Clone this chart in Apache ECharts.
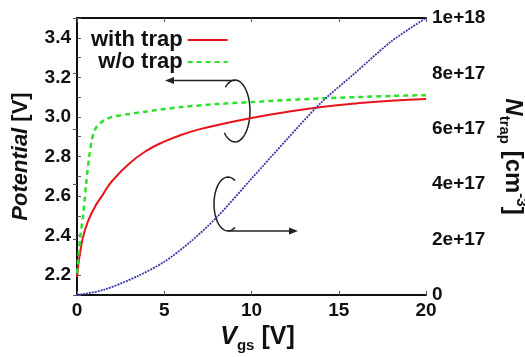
<!DOCTYPE html>
<html>
<head>
<meta charset="utf-8">
<script src="https://cdn.jsdelivr.net/npm/echarts@6/dist/echarts.min.js"></script>
<style>
html, body { margin: 0; padding: 0; background: #fff; }
#trap_chart { width: 525px; height: 357px; }
</style>
</head>
<body>
<div id="trap_chart"></div>
<script>
// values
let vgs_with_trap = [0, 0.17, 0.46, 0.93, 1.5, 2, 3, 4, 5, 6, 7, 8, 10, 12, 14, 16, 18, 20];
let pot_with_trap = [2.19, 2.31, 2.43, 2.53, 2.61, 2.675, 2.765, 2.83, 2.875, 2.91, 2.937, 2.958, 2.995, 3.025, 3.05, 3.068, 3.082, 3.09];

let vgs_wo_trap = [0, 0.17, 0.36, 0.52, 0.7, 0.84, 1.0, 1.22, 1.6, 2, 3, 4, 6, 8, 10, 12, 14, 16, 18, 20];
let pot_wo_trap = [2.21, 2.38, 2.51, 2.66, 2.8, 2.88, 2.93, 2.96, 2.985, 3.0, 3.015, 3.028, 3.05, 3.065, 3.075, 3.085, 3.094, 3.1, 3.106, 3.11];

let vgs_ntrap = [0, 1.5, 3.4, 5, 6.5, 8, 10, 12, 14, 16, 18, 20];
let ntrap = [0, 0.18e17, 0.66e17, 1.2e17, 1.92e17, 2.8e17, 4.2e17, 5.6e17, 6.95e17, 8.05e17, 9.15e17, 10e17];

let series_names = ['with trap', 'w/o trap'];

let font = "'Liberation Sans', Arial, sans-serif";

function pairs(xs, ys) {
    return xs.map(function (x, i) { return [x, ys[i]]; });
}

// points along an ellipse arc for the curly annotation arrows
function ellipse_arc(cx, cy, rx, ry, a0, a1) {
    let pts = [];
    for (let k = 0; k <= 40; k++) {
        let a = (a0 + (a1 - a0) * k / 40) * Math.PI / 180;
        pts.push([cx + rx * Math.cos(a), cy + ry * Math.sin(a)]);
    }
    return pts;
}

let trap_option = {
    animation: false,
    textStyle: { fontFamily: font },
    grid: { left: 77, right: 99, top: 18, bottom: 62, show: false, containLabel: false, outerBoundsMode: 'none' },
    legend: {
        data: series_names,
        orient: 'vertical',
        left: 86,
        top: 24,
        align: 'right',
        itemWidth: 40,
        itemHeight: 14,
        itemGap: 0,
        itemStyle: { opacity: 0 },
        textStyle: { fontFamily: font, fontWeight: 'bold', fontSize: 22, color: '#111', lineHeight: 22 }
    },
    xAxis: [
        {
            type: 'value',
            min: 0,
            max: 20,
            interval: 5,
            position: 'bottom',
            name: '{i|V}{sub|gs} [V]',
            nameLocation: 'middle',
            nameGap: 26,
            nameTextStyle: {
                fontFamily: font, fontWeight: 'bold', fontSize: 25, color: '#111',
                padding: [0, 0, 0, 12],
                rich: {
                    i: { fontFamily: font, fontWeight: 'bold', fontStyle: 'italic', fontSize: 25, lineHeight: 32, verticalAlign: 'middle', color: '#111' },
                    sub: { fontFamily: font, fontWeight: 'bold', fontSize: 15, lineHeight: 15, verticalAlign: 'bottom', color: '#111' }
                }
            },
            axisLine: { lineStyle: { color: '#111', width: 2 } },
            axisTick: { inside: true, length: 4, lineStyle: { color: '#555' } },
            axisLabel: { fontFamily: font, fontWeight: 'bold', fontSize: 19, color: '#111', margin: 6 },
            splitLine: { show: false }
        },
        {
            type: 'value',
            min: 0,
            max: 20,
            interval: 5,
            position: 'top',
            axisLine: { lineStyle: { color: '#111', width: 2 } },
            axisTick: { inside: true, length: 4, lineStyle: { color: '#555' } },
            axisLabel: { show: false },
            splitLine: { show: false }
        }
    ],
    yAxis: [
        {
            type: 'value',
            min: 2.1,
            max: 3.5,
            interval: 0.1,
            position: 'left',
            name: '{i|Potential} [V]',
            nameLocation: 'middle',
            nameRotate: 90,
            nameGap: 45,
            nameTextStyle: {
                fontFamily: font, fontWeight: 'bold', fontSize: 22, color: '#111',
                rich: {
                    i: { fontFamily: font, fontWeight: 'bold', fontStyle: 'italic', fontSize: 22, color: '#111' }
                }
            },
            axisLine: { show: true, lineStyle: { color: '#111', width: 2 } },
            axisTick: { inside: true, length: 4, lineStyle: { color: '#555' } },
            axisLabel: {
                fontFamily: font, fontWeight: 'bold', fontSize: 19, color: '#111', margin: 6,
                formatter: function (v) {
                    return Math.round(v * 10) % 2 === 0 ? v.toFixed(1) : '';
                }
            },
            splitLine: { show: false }
        },
        {
            type: 'value',
            min: 0,
            max: 1e18,
            interval: 2e17,
            position: 'right',
            name: '{i|N}{sub|trap} [cm{sup|-3}]',
            nameLocation: 'middle',
            nameRotate: -90,
            nameGap: 70,
            nameTextStyle: {
                fontFamily: font, fontWeight: 'bold', fontSize: 24, color: '#111',
                rich: {
                    i: { fontFamily: font, fontWeight: 'bold', fontStyle: 'italic', fontSize: 24, lineHeight: 32, verticalAlign: 'middle', color: '#111' },
                    sub: { fontFamily: font, fontWeight: 'bold', fontSize: 15, lineHeight: 15, verticalAlign: 'bottom', color: '#111' },
                    sup: { fontFamily: font, fontWeight: 'bold', fontSize: 15, lineHeight: 15, verticalAlign: 'top', color: '#111' }
                }
            },
            axisLine: { show: true, lineStyle: { color: '#111', width: 2 } },
            axisTick: { inside: true, length: 4, lineStyle: { color: '#555' } },
            axisLabel: {
                fontFamily: font, fontWeight: 'bold', fontSize: 19, color: '#111', margin: 6,
                padding: [0, 0, 7, 0],
                formatter: function (v) {
                    return v === 0 ? '0' : v.toExponential();
                }
            },
            splitLine: { show: false }
        }
    ],
    series: [
        {
            name: series_names[0],
            type: 'line',
            yAxisIndex: 0,
            showSymbol: false,
            symbol: 'none',
            smooth: 0.5,
            lineStyle: { color: '#e8141c', width: 2 },
            itemStyle: { color: '#e8141c' },
            data: pairs(vgs_with_trap, pot_with_trap)
        },
        {
            name: series_names[1],
            type: 'line',
            yAxisIndex: 0,
            showSymbol: false,
            symbol: 'none',
            smooth: 0.3,
            lineStyle: { color: '#2de02d', width: 2.5, type: [5, 4] },
            itemStyle: { color: '#2de02d' },
            data: pairs(vgs_wo_trap, pot_wo_trap)
        },
        {
            name: 'N trap',
            type: 'line',
            yAxisIndex: 1,
            showSymbol: false,
            symbol: 'none',
            smooth: 0.3,
            lineStyle: { color: '#3a3aa8', width: 1.8, type: [2, 1] },
            data: pairs(vgs_ntrap, ntrap)
        }
    ],
    graphic: [
        // arrow pointing to the left axis
        { type: 'polyline', shape: { points: ellipse_arc(235, 111, 15, 31, -130, 135) }, style: { fill: null, stroke: '#222', lineWidth: 1.5 } },
        { type: 'line', shape: { x1: 235, y1: 80.5, x2: 172, y2: 80.5 }, style: { stroke: '#222', lineWidth: 1.5 } },
        { type: 'polygon', shape: { points: [[165, 80.5], [174, 77], [174, 84]] }, style: { fill: '#222' } },
        // arrow pointing to the right axis
        { type: 'polyline', shape: { points: ellipse_arc(228, 204, 14, 27, -60, -300) }, style: { fill: null, stroke: '#222', lineWidth: 1.5 } },
        { type: 'line', shape: { x1: 228, y1: 231, x2: 291, y2: 231 }, style: { stroke: '#222', lineWidth: 1.5 } },
        { type: 'polygon', shape: { points: [[298, 231], [289, 227.5], [289, 234.5]] }, style: { fill: '#222' } }
    ]
};

var trap_chart = echarts.init(document.getElementById('trap_chart'));
trap_chart.setOption(trap_option);
</script>
</body>
</html>
